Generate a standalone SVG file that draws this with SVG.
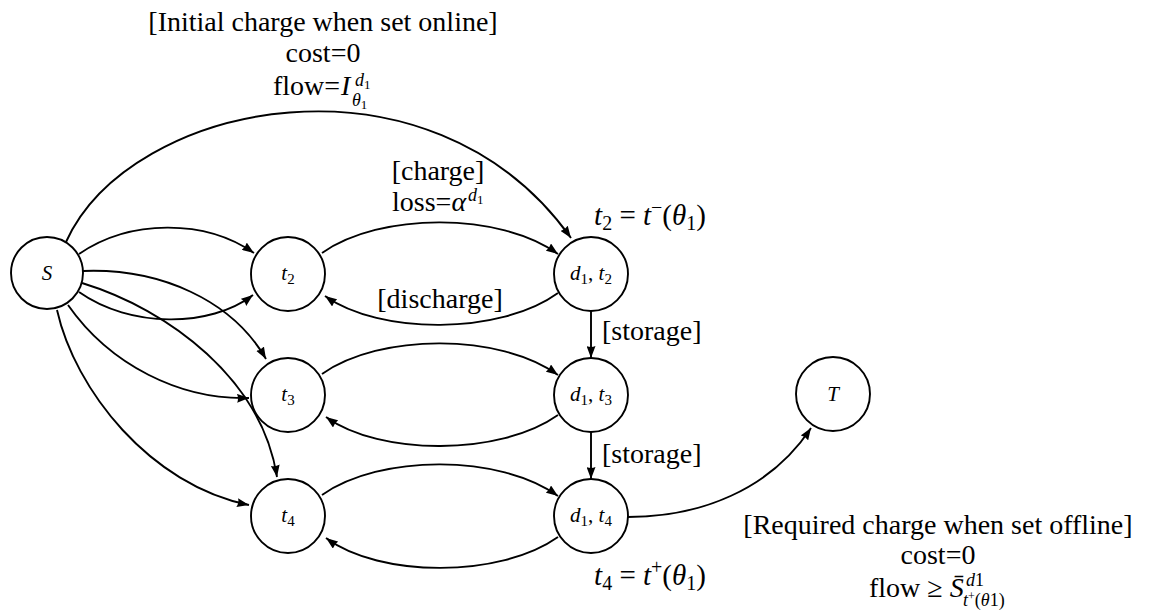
<svg xmlns="http://www.w3.org/2000/svg" width="1154" height="611" viewBox="0 0 1154 611">
<style>
  .node { fill: none; stroke: #000; stroke-width: 1.9; }
  .edge { fill: none; stroke: #000; stroke-width: 1.9; marker-end: url(#arr); }
  text { font-family: "Liberation Serif", "Times New Roman", serif; fill: #000; }
  .lbl { font-size: 28px; }
  .math { font-size: 29px; }
  .nl { font-size: 21px; font-style: italic; }
  .it { font-style: italic; }
  .sub { font-size: 15px; font-style: normal; }
  .scr { font-size: 18px; font-style: italic; }
</style>
<defs>
  <marker id="arr" viewBox="0 0 12 9" refX="12" refY="4.5" markerWidth="12" markerHeight="9" markerUnits="userSpaceOnUse" orient="auto">
    <path d="M0,0 L12,4.5 L0,9 Q2,4.5 0,0 z" fill="#000"/>
  </marker>
</defs>
<rect width="1154" height="611" fill="#fff"/>

<g id="connectors">
  <path class="edge" d="M 66,242 C 130,100 430,40 571,238"/>
  <path class="edge" d="M 79,254 C 130,219 205,219 254,253"/>
  <path class="edge" d="M 79,292 C 130,328 210,328 253,295"/>
  <path class="edge" d="M 83,271 C 160,268 232,300 266,359"/>
  <path class="edge" d="M 82,283 C 170,310 262,380 277,477"/>
  <path class="edge" d="M 68,305 C 110,365 180,400 249,398"/>
  <path class="edge" d="M 57,310 C 75,390 150,485 249,505"/>
  <path class="edge" d="M 322,253 C 380,212 500,212 558,254"/>
  <path class="edge" d="M 558,293 C 500,335 380,335 325,296"/>
  <path class="edge" d="M 322,374 C 380,333 500,333 558,375"/>
  <path class="edge" d="M 558,415 C 500,456 380,456 326,417"/>
  <path class="edge" d="M 322,495 C 380,454 500,454 558,496"/>
  <path class="edge" d="M 558,537 C 500,578 380,578 326,538"/>
  <path class="edge" d="M 591,311 L 591,358"/>
  <path class="edge" d="M 591,432 L 591,479"/>
  <path class="edge" d="M 628,517 C 700,517 770,490 811,428"/>
</g>

<g id="node-S">
  <circle class="node" cx="47" cy="273" r="36"/>
  <text class="nl" x="47" y="280" text-anchor="middle">S</text>
</g>
<g id="node-t2">
  <circle class="node" cx="288" cy="274" r="37"/>
  <text class="nl" x="288" y="280" text-anchor="middle">t<tspan class="sub" dy="4">2</tspan></text>
</g>
<g id="node-t3">
  <circle class="node" cx="288" cy="395" r="37"/>
  <text class="nl" x="288" y="401" text-anchor="middle">t<tspan class="sub" dy="4">3</tspan></text>
</g>
<g id="node-t4">
  <circle class="node" cx="288" cy="516" r="37"/>
  <text class="nl" x="288" y="522" text-anchor="middle">t<tspan class="sub" dy="4">4</tspan></text>
</g>
<g id="node-d1t2">
  <circle class="node" cx="591" cy="274" r="37"/>
  <text class="nl" x="591" y="280" text-anchor="middle">d<tspan class="sub" dy="4">1</tspan><tspan dy="-4" font-style="normal">, </tspan>t<tspan class="sub" dy="4">2</tspan></text>
</g>
<g id="node-d1t3">
  <circle class="node" cx="591" cy="395" r="37"/>
  <text class="nl" x="591" y="401" text-anchor="middle">d<tspan class="sub" dy="4">1</tspan><tspan dy="-4" font-style="normal">, </tspan>t<tspan class="sub" dy="4">3</tspan></text>
</g>
<g id="node-d1t4">
  <circle class="node" cx="591" cy="516" r="37"/>
  <text class="nl" x="591" y="522" text-anchor="middle">d<tspan class="sub" dy="4">1</tspan><tspan dy="-4" font-style="normal">, </tspan>t<tspan class="sub" dy="4">4</tspan></text>
</g>
<g id="node-T">
  <circle class="node" cx="833" cy="394" r="37"/>
  <text class="nl" x="833" y="401" text-anchor="middle">T</text>
</g>

<g id="labels">
  <text class="lbl" x="323" y="31" text-anchor="middle">[Initial charge when set online]</text>
  <text class="lbl" x="323" y="62" text-anchor="middle">cost=0</text>
  <text class="lbl" x="340" y="95" text-anchor="end">flow=</text>
  <text class="lbl it" x="341" y="95">I</text>
  <text class="scr" x="355" y="86">d<tspan font-size="13" font-style="normal" dy="3">1</tspan></text>
  <text class="scr" x="352" y="106">θ<tspan font-size="13" font-style="normal" dy="3">1</tspan></text>

  <text class="lbl" x="438" y="180" text-anchor="middle">[charge]</text>
  <text class="lbl" x="392" y="211">loss=<tspan class="it">α</tspan></text>
  <text class="scr" x="468" y="201">d<tspan font-size="13" font-style="normal" dy="3">1</tspan></text>

  <text class="math" x="650" y="225" text-anchor="middle"><tspan class="it">t</tspan><tspan font-size="20" dy="5">2</tspan><tspan dy="-5"> = </tspan><tspan class="it">t</tspan><tspan font-size="20" dy="-11">−</tspan><tspan dy="11">(</tspan><tspan class="it">θ</tspan><tspan font-size="20" dy="5">1</tspan><tspan dy="-5">)</tspan></text>

  <text class="lbl" x="440" y="308" text-anchor="middle">[discharge]</text>
  <text class="lbl" x="602" y="340">[storage]</text>
  <text class="lbl" x="602" y="463">[storage]</text>

  <text class="math" x="650" y="585" text-anchor="middle"><tspan class="it">t</tspan><tspan font-size="20" dy="5">4</tspan><tspan dy="-5"> = </tspan><tspan class="it">t</tspan><tspan font-size="20" dy="-11">+</tspan><tspan dy="11">(</tspan><tspan class="it">θ</tspan><tspan font-size="20" dy="5">1</tspan><tspan dy="-5">)</tspan></text>

  <text class="lbl" x="938" y="534" text-anchor="middle">[Required charge when set offline]</text>
  <text class="lbl" x="938" y="564" text-anchor="middle">cost=0</text>
  <text class="lbl" x="869" y="597">flow ≥ <tspan class="it">S̄</tspan></text>
  <text class="scr" x="966" y="586">d<tspan font-style="normal">1</tspan></text>
  <text class="scr" x="963" y="606">t<tspan font-size="12" font-style="normal" dy="-6">+</tspan><tspan font-style="normal" dy="6">(</tspan>θ<tspan font-style="normal">1)</tspan></text>
</g>
</svg>
